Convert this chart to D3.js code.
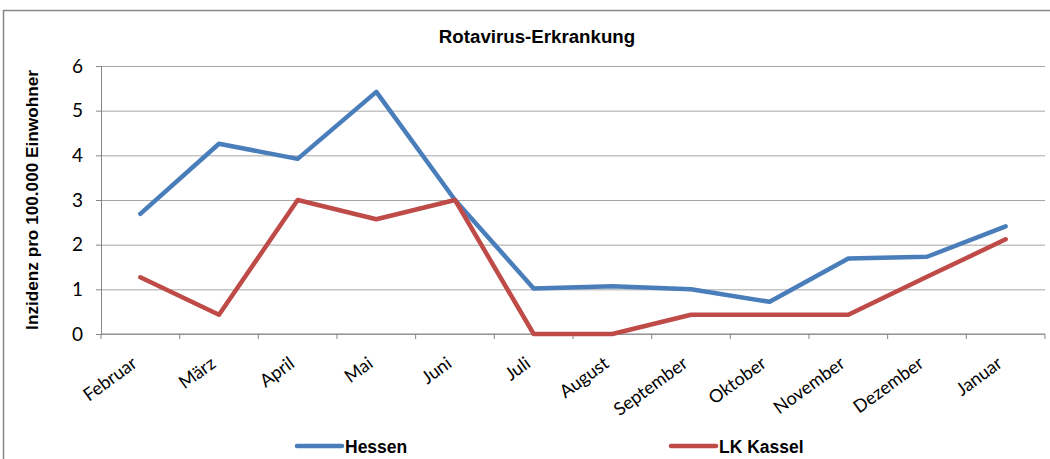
<!DOCTYPE html>
<html>
<head>
<meta charset="utf-8">
<script src="https://cdn.jsdelivr.net/npm/d3@7"></script>
<style>
  body { margin: 0; background: #fff; }
  svg { display: block; }
</style>
</head>
<body>
<div id="chart"></div>
<script>
'use strict';

var months = ['Februar', 'März', 'April', 'Mai', 'Juni', 'Juli', 'August',
  'September', 'Oktober', 'November', 'Dezember', 'Januar'];
var hessen = [2.69, 4.26, 3.92, 5.42, 3.0, 1.02, 1.07, 1.0, 0.72, 1.69, 1.73, 2.41];
var kassel = [1.27, 0.43, 3.0, 2.57, 3.0, 0.0, 0.0, 0.43, 0.43, 0.43, 1.28, 2.12];
var yTicks = [0, 1, 2, 3, 4, 5, 6];

var series = [
  {name: 'Hessen', values: hessen, color: '#4a7ebb'},
  {name: 'LK Kassel', values: kassel, color: '#be4b48'}
];

var W = 1050, H = 459;
var plot = {left: 101, right: 1045, top: 66, bottom: 334};

var svg = d3.select('#chart').append('svg')
  .attr('width', W)
  .attr('height', H);

// chart frame
svg.append('rect')
  .attr('x', 3.5).attr('y', 10.5)
  .attr('width', W + 10).attr('height', H + 10)
  .attr('fill', '#fff')
  .attr('stroke', '#868686')
  .attr('stroke-width', 1.5);

var x = d3.scaleBand().domain(months).range([plot.left, plot.right]);
var y = d3.scaleLinear().domain([0, 6]).range([plot.bottom, plot.top]);

// gridlines
svg.append('g')
  .attr('transform', 'translate(' + plot.left + ',0)')
  .call(d3.axisLeft(y).tickValues(yTicks).tickSize(-(plot.right - plot.left)).tickFormat(''))
  .call(function(g) {
    g.select('.domain').remove();
    g.selectAll('line').attr('stroke', '#a6a6a6').attr('stroke-width', 1);
  });

// y axis
svg.append('g')
  .attr('transform', 'translate(' + plot.left + ',0)')
  .call(d3.axisLeft(y).tickValues(yTicks).tickFormat(d3.format('d'))
    .tickSizeInner(5).tickSizeOuter(0).tickPadding(13))
  .call(function(g) {
    g.select('.domain').attr('stroke', '#868686');
    g.selectAll('line').attr('stroke', '#868686');
    g.selectAll('text')
      .attr('fill', '#000')
      .style('font-family', 'Lato, "Open Sans", sans-serif')
      .style('font-size', '19px');
  });

// x axis line and boundary ticks
var xAxis = svg.append('g');
xAxis.append('line')
  .attr('x1', plot.left).attr('x2', plot.right)
  .attr('y1', y(0)).attr('y2', y(0))
  .attr('stroke', '#868686');
var bounds = months.map(function(m) { return x(m); }).concat([x.range()[1]]);
xAxis.selectAll('.tick').data(bounds).enter().append('line')
  .attr('x1', function(d) { return d; })
  .attr('x2', function(d) { return d; })
  .attr('y1', y(0)).attr('y2', y(0) + 5)
  .attr('stroke', '#868686');

xAxis.selectAll('.lbl').data(months).enter().append('text')
  .attr('transform', function(d) {
    return 'translate(' + (x(d) + x.bandwidth() / 2 - 2) + ',366) rotate(-36)';
  })
  .attr('text-anchor', 'end')
  .style('font-family', 'Lato, "Open Sans", sans-serif')
  .style('font-size', '18px')
  .text(function(d) { return d; });

// lines
var line = d3.line()
  .x(function(d, i) { return x(months[i]) + x.bandwidth() / 2; })
  .y(function(d) { return y(d); });

svg.selectAll('.series').data(series).enter().append('path')
  .attr('d', function(d) { return line(d.values); })
  .attr('fill', 'none')
  .attr('stroke', function(d) { return d.color; })
  .attr('stroke-width', 4.5)
  .attr('stroke-linejoin', 'round')
  .attr('stroke-linecap', 'round');

// title
svg.append('text')
  .attr('x', 537).attr('y', 43)
  .attr('text-anchor', 'middle')
  .style('font-family', '"Liberation Sans", Arial, sans-serif')
  .style('font-weight', 'bold')
  .style('font-size', '18.7px')
  .text('Rotavirus-Erkrankung');

// y title
svg.append('text')
  .attr('transform', 'translate(38,' + ((plot.top + plot.bottom) / 2) + ') rotate(-90)')
  .attr('text-anchor', 'middle')
  .style('font-family', '"Liberation Sans", Arial, sans-serif')
  .style('font-weight', 'bold')
  .style('font-size', '17.2px')
  .text('Inzidenz pro 100.000 Einwohner');

// legend
var legendX = [297, 671];
var legend = svg.selectAll('.legend').data(series).enter().append('g')
  .attr('transform', function(d, i) { return 'translate(' + legendX[i] + ',446)'; });
legend.append('line')
  .attr('x1', 0).attr('x2', 45)
  .attr('stroke', function(d) { return d.color; })
  .attr('stroke-width', 4.5)
  .attr('stroke-linecap', 'round');
legend.append('text')
  .attr('x', 48).attr('y', 7)
  .style('font-family', '"Liberation Sans", Arial, sans-serif')
  .style('font-weight', 'bold')
  .style('font-size', '17.5px')
  .text(function(d) { return d.name; });
</script>
</body>
</html>
